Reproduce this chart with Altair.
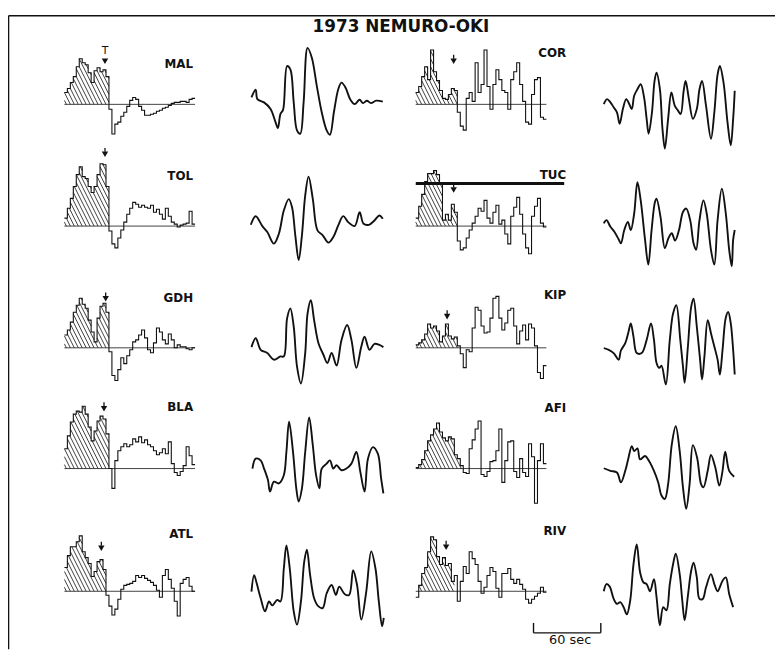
import altair as alt
import numpy as np
import pandas as pd

TITLE = "1973 NEMURO-OKI"
STATIONS = ["MAL", "TOL", "GDH", "BLA", "ATL", "COR", "TUC", "KIP", "AFI", "RIV"]

# source time functions (step amplitudes, one per sample interval)
STF_DT = 3.0
STF_MAL = [12, 16, 22, 28, 38, 46, 42, 40, 32, 22, 34, 37, 33, 35, 28, -5, -30, -20, -18, -12, -8, -2, 4, 7, 5, -2, -6, -11, -11, -10, -9, -7, -6, -4, -3, -1, 1, 2, 2, 3, 3, 2, 5, 6]
STF_TOL = [8, 18, 28, 40, 52, 60, 50, 48, 40, 34, 40, 52, 63, 62, 40, -5, -18, -22, -12, -4, 4, 12, 18, 24, 22, 19, 21, 19, 18, 21, 14, 17, 12, 7, 18, 10, 4, 2, -1, 1, 2, 3, 15, 2]
STF_GDH = [13, 18, 26, 36, 43, 50, 44, 40, 28, 16, 6, 30, 42, 45, 36, -4, -28, -33, -22, -10, -16, -8, -2, 6, 8, 13, 18, 10, -2, -5, 5, 20, 16, 8, 4, 14, 8, 0, 3, 1, 1, -1, -2, 0]
STF_BLA = [20, 33, 47, 55, 58, 57, 63, 55, 42, 28, 38, 48, 53, 50, 35, 0, -20, 8, 18, 22, 25, 22, 24, 30, 27, 32, 26, 29, 24, 22, 18, 14, 16, 20, 15, 27, 5, -4, -7, -3, 3, 22, 13, 4]
STF_ATL = [24, 36, 45, 45, 50, 56, 40, 34, 28, 15, 20, 30, 32, 22, -4, -15, -24, -18, -8, 2, 6, 7, 8, 10, 16, 14, 16, 13, 11, 9, 6, 1, -6, 16, 22, 12, 3, -10, -25, 8, 12, 14, 5, 0]
STF_COR = [12, 18, 28, 38, 25, 55, 33, 24, 14, 6, 5, 10, 16, 14, -8, -22, -26, 6, 12, 3, 42, 12, 20, 55, 18, -5, 20, 35, 25, 14, 12, -5, 25, 33, 42, 20, 3, -18, -20, 10, 25, 27, -13, -15]
STF_TUC = [8, 20, 32, 45, 53, 53, 56, 52, 44, 6, 12, 6, 22, 14, -15, -24, -22, -12, -4, 3, 10, 18, 15, 26, 8, 3, 14, 21, 2, 6, -8, -18, 10, 19, 29, 12, -8, -22, -28, 10, 20, 28, 3, -1]
STF_KIP = [3, 5, 8, 14, 24, 20, 22, 17, 6, 12, 24, 12, 9, 11, 2, -6, -20, -2, -4, 20, 41, 38, 22, 15, 16, 30, 50, 52, 30, 18, 25, 38, 40, 22, 4, 17, 23, 8, 24, 20, 2, -25, -31, -18]
STF_AFI = [1, 4, 9, 18, 28, 34, 40, 46, 37, 31, 28, 32, 30, 14, 10, 3, -4, -5, 20, 29, 40, 48, -6, -8, -3, 7, 8, 18, 40, -14, 8, 27, 28, -3, -9, 10, -4, -8, 25, 12, -35, 8, 25, 5]
STF_RIV = [-6, 6, 18, 24, 40, 55, 52, 35, 27, 34, 26, 28, 10, 16, -10, 10, 25, 18, 40, 33, 27, 10, -2, 4, 16, 24, 20, 3, -6, 18, 18, 23, 12, 8, 12, 7, 2, -8, -12, -8, -5, -2, 4, -1]

HATCH_STEPS = [15, 15, 15, 15, 14, 14, 14, 14, 16, 13]
T_TIME = [41.0, 41.0, 41.7, 40.0, 37.3, 38.3, 38.3, 31.7, None, 30.7]
T_LEVEL = [40, 69, 46, 57, 40, 40, 33, 28, None, 41]
TUC_BAR_LEVEL = 43

# waveforms: times and amplitudes
MAL_T = [1, 5.3, 7, 13.7, 20.3, 25.3, 27.7, 30.3, 33, 37, 40.3, 43.7, 47, 50.3, 53.7, 57.7, 62, 67, 72, 77, 80.3, 84.3, 88.7, 92, 96, 101, 105.3, 110.3, 113.7, 117.7, 121.7, 127, 133.7]
MAL_A = [7, 14.7, 5.3, 2, -4.7, -18, -24, -9.7, -5.3, 38.7, 35.3, 2, -26.3, -29.7, 2, 57, 47, 18.7, -8, -26.3, -30.7, -8, 15.3, 22, 17, 4.7, 0.3, 4.7, 1.3, 3.7, 1.3, 3.7, 2.7]
TOL_T = [0.3, 5.3, 12, 17, 23.7, 28.7, 33.7, 38.7, 42, 45.3, 48.7, 52, 55.3, 58.7, 63, 67.7, 73, 78.7, 83.7, 88.7, 93.7, 98.7, 105.3, 110.3, 114.3, 119.7, 125.3, 130.3, 133.7]
TOL_A = [1.3, 10, 0, -6, -17.7, -7.7, 15.7, 27.3, 19, -9.3, -34.3, -9.3, 30.7, 50, 27.3, -4.3, -9.3, -16.7, -11, 0.7, 10, 4, 0, 14, 2.3, 1.3, 5.7, 10.7, 7.3]
GDH_T = [1, 5.3, 10.3, 17, 23.7, 30.3, 33.7, 37, 40.3, 43.7, 47, 51, 55.3, 57.7, 61, 64.3, 68.7, 73.7, 77.7, 82, 87, 92, 97.7, 102, 107, 112, 115.3, 120.3, 125.3, 130.3, 134.3]
GDH_A = [0.7, 9.7, -2, -5.3, -12, -8.7, -8.7, 29.7, 39.7, 21.3, -18.7, -36, -5.3, 34.7, 48, 28, 4.7, -7, -15.3, -5.3, -18, 8, 23, 8, -20.3, 1.3, 11.3, -2, 4, 3, 0.7]
BLA_T = [2, 5.3, 10.3, 13.7, 17.7, 19.7, 23.7, 28.7, 33.7, 36.3, 39, 43, 46.3, 48.7, 52, 55.3, 59.3, 63, 66.3, 69.7, 72, 77, 80.3, 83.7, 87, 92, 97, 102, 107, 111, 115.3, 118.7, 123.7, 128.7, 132, 134.3]
BLA_A = [0, 10, 8.3, 0, -11.7, -23.3, -13.3, -15, -6.7, 16.7, 47.3, 16.7, -20, -33.3, -20, 16.7, 51.7, 23.3, -6.7, -20, 0, 5, 8.3, 0, 3.3, -1.7, 0, 5, 16.7, -3.3, -23.3, 10, 21.7, 15, -10, -25]
ATL_T = [1, 3.7, 6.3, 10.3, 14.7, 18.7, 22, 27, 30.3, 33.7, 36.3, 39.7, 43.7, 47, 51, 54.3, 57, 60.3, 64.3, 68.7, 73, 77, 82, 86.3, 89.7, 95.3, 99.7, 103.7, 107.7, 112, 117, 122, 126.3, 129.7, 133, 134.7]
ATL_A = [-0.3, 16.3, 8, -7, -20.3, -10.3, -14.3, -8.7, -10.3, 23, 46.3, 23, -20.3, -33.7, -10.3, 29.7, 42, 16.3, -7, -15.3, -17, -2, 6.3, -3.7, 4.7, -3, -3.7, 21.3, 6.3, -28.7, -0.3, 40.3, 23, -10.3, -35.3, -27]
COR_T = [0, 3.3, 6.7, 10, 13.3, 16, 19.3, 22.7, 25.7, 28.3, 30.7, 34, 37.3, 40.7, 43.3, 45.3, 48.7, 51.3, 53.3, 56.7, 59.3, 61.7, 65, 68.3, 71.7, 75, 77.7, 80.7, 82.7, 86, 90, 94, 96.7, 99.3, 103.3, 108.3, 111.7, 115, 117.3, 121, 125, 128.3, 130.7, 132.3]
COR_A = [0.3, 5.3, 2, -3, -8, -19.7, -4.7, 5.3, 0.3, -4.7, 8.7, 15.3, 20.3, 7, -14.7, -29.7, -8, 23.7, 32, 15.3, -24.7, -44.7, -14.7, 12, -1.3, -6.3, -9.7, 13.7, 23.7, 5.3, -14.7, -4.7, 15.3, 23.7, -1.3, -34.7, -8, 30.3, 38.7, 22, -18, -41.3, -14.7, 13.7]
TUC_T = [0, 2.7, 6.7, 10.7, 15, 17.3, 20.7, 24.3, 27.3, 30.7, 34, 37.3, 41.7, 45, 48.3, 51.7, 53.3, 57.3, 61.7, 65.3, 68.7, 72, 76, 80, 83.3, 87.3, 90.7, 93.3, 96.7, 100.7, 104, 108.3, 111.7, 115, 119.3, 123.3, 126.7, 129.3, 130.7, 132.3]
TUC_A = [2.7, 6, -0.7, -5.7, -13.3, -17.3, -4, 4.3, -4, 12.7, 44.3, 26, -14, -39, -4, 24.3, 27.7, 9.3, -22.3, -12.3, -7.3, -14.7, -4, 14.3, 17.7, 6, -17.3, -24, 6, 26, 12.7, -24, -39, 6, 37.7, 12.7, -24, -40.7, -14, -4]
KIP_T = [0, 5, 10, 15, 17.3, 21.7, 25, 27.3, 30, 33.3, 38.3, 43.3, 47.7, 50.7, 53.3, 56, 58.3, 62.7, 66.7, 70, 73.3, 77.3, 80, 81.7, 85, 88.3, 90.7, 94, 97.3, 99.3, 101.7, 105, 108.3, 111.7, 115, 117.3, 120, 123.3, 125.7, 128.3, 130.7, 132.3]
KIP_A = [-0.3, -2, -5.3, -12, -2.7, 4.7, 16.3, 24.7, 11.3, -5.3, -5.3, 8, 24.7, 8, -15.3, -20.3, -18, -37, 8, 34.7, 43, 8, -18.7, -35.3, 1.3, 41.3, 49.7, 21.3, -12, -32, -8.7, 28, 14.7, 1.3, -12, -27, -2, 30.7, 36.3, 24.7, -2, -27]
AFI_T = [0, 6.7, 13.3, 17.3, 21.7, 25, 28.3, 30.7, 34, 36.7, 41.7, 45.7, 50.7, 55, 58.3, 61.7, 65, 68.7, 72.7, 76.7, 80, 83.3, 86.7, 90, 94.3, 98.3, 100.7, 105, 108.3, 112.7, 116.7, 120, 122.7, 126.7, 131.7]
AFI_A = [0.3, -2.3, -4, -14, -2.3, 11, 22.7, 17.7, 20.3, 9.3, 12.7, 7.7, -2.3, -14, -27.3, -30.7, -15.7, 24.3, 42.7, 17.7, -19, -40.7, -15.7, 23.7, 11, -15.7, -19, -2.3, 13.7, 1, -17.3, -2.3, 17, -2.3, -8.3]
RIV_T = [0, 2.7, 6, 10, 13.3, 16.7, 20, 23.3, 26.7, 30, 33.3, 36.7, 40, 43.3, 46.7, 50.7, 53.3, 56.7, 60, 63.3, 66.7, 70, 72.7, 76.7, 79.3, 81.7, 85, 88.3, 90.7, 94, 96.7, 100, 103.3, 108.3, 111.7, 115, 120, 123.3, 126.7, 130.7]
RIV_A = [0, 7.3, 4.7, -7.7, -12.7, -11, -16, -23.3, -9.3, 27.3, 47.3, 19, 9, 7.3, 0, 12.3, -6, -34.3, -16, -19.3, 7.3, 27.3, 38, 17.3, -9.3, -29.3, -4.3, 20.7, 29, 14, -7.7, -7.7, 4, 17.3, 7.3, 0, 10.7, 14, -2.7, -16]

SCALE_BAR_LABEL = "60 sec"
SCALE_BAR_LEN = 68  # 60 s in sample-time units

STF = [STF_MAL, STF_TOL, STF_GDH, STF_BLA, STF_ATL, STF_COR, STF_TUC, STF_KIP, STF_AFI, STF_RIV]
WAVE_T = [MAL_T, TOL_T, GDH_T, BLA_T, ATL_T, COR_T, TUC_T, KIP_T, AFI_T, RIV_T]
WAVE_A = [MAL_A, TOL_A, GDH_A, BLA_A, ATL_A, COR_A, TUC_A, KIP_A, AFI_A, RIV_A]

# ---- layout (plot units = pixels of the canvas) ----
W, H = 775, 640
STF_X0 = [57, 412]
WAVE_X0 = [245, 602]
ROW_BASE = [90, 213, 336, 458, 582]
LABEL_X = [187, 564]
LABEL_RISE = [41, 51, 50, 62, 58, 52, 52, 53, 61, 61]
INK = "#111111"


def hatch_segments(vals, n, dt, slope=2.0, gap=4.0):
    f_steps = np.clip(np.array(vals[:n], dtype=float), 0, None)
    xs = np.arange(0, n * dt, 0.05)
    idx = np.minimum((xs // dt).astype(int), n - 1)
    f = f_steps[idx]
    segs = []
    c = gap / 2
    xmax = n * dt + f_steps.max() / slope
    while c < xmax:
        a = slope * (c - xs)
        ok = (a >= 0) & (a <= f)
        if ok.any():
            d = np.diff(np.concatenate([[0], ok.astype(int), [0]]))
            starts = np.where(d == 1)[0]
            ends = np.where(d == -1)[0] - 1
            for s, e in zip(starts, ends):
                if e > s:
                    segs.append((xs[s], a[s], xs[e], a[e]))
        c += gap
    return segs


stf_rows, base_rows, hatch_rows, wave_rows = [], [], [], []
mark_rows, stem_rows, label_rows, tlet_rows = [], [], [], []
for k, st in enumerate(STATIONS):
    col, row = divmod(k, 5)
    x0, base = STF_X0[col], ROW_BASE[row]
    vals = STF[k]
    n = len(vals)
    for i, v in enumerate(vals):
        stf_rows.append({"st": st, "x": x0 + i * STF_DT, "y": base - v})
    stf_rows.append({"st": st, "x": x0 + n * STF_DT, "y": base - vals[-1]})
    base_rows.append({"x": x0, "x2": x0 + n * STF_DT, "y": base})
    for (xa, aa, xb, ab) in hatch_segments(vals, HATCH_STEPS[k], STF_DT):
        hatch_rows.append({"x": x0 + xa, "y": base - aa, "x2": x0 + xb, "y2": base - ab})
    wx0 = WAVE_X0[col]
    for t, a in zip(WAVE_T[k], WAVE_A[k]):
        wave_rows.append({"st": st, "x": wx0 + t, "y": base - a})
    if T_TIME[k] is not None:
        tx = x0 + T_TIME[k]
        lv = T_LEVEL[k]
        mark_rows.append({"x": tx, "y": base - lv - 3.5})
        if st == "MAL":
            tlet_rows.append({"x": tx, "y": base - lv - 14, "t": "T"})
        else:
            stem_rows.append({"x": tx, "y": base - lv - 6, "y2": base - lv - 10})
    label_rows.append({"x": LABEL_X[col], "y": base - LABEL_RISE[k], "t": st})

stf_df = pd.DataFrame(stf_rows)
base_df = pd.DataFrame(base_rows)
hatch_df = pd.DataFrame(hatch_rows)
wave_df = pd.DataFrame(wave_rows)
mark_df = pd.DataFrame(mark_rows)
stem_df = pd.DataFrame(stem_rows)
label_df = pd.DataFrame(label_rows)
tlet_df = pd.DataFrame(tlet_rows)

tuc_k = STATIONS.index("TUC")
tuc_base = ROW_BASE[tuc_k % 5]
tuc_x0 = STF_X0[tuc_k // 5]
bar_df = pd.DataFrame([{"x": tuc_x0, "x2": tuc_x0 + 150, "y": tuc_base - TUC_BAR_LEVEL}])

sb_x, sb_y = 531, 624
scale_h = pd.DataFrame([{"x": sb_x, "x2": sb_x + SCALE_BAR_LEN, "y": sb_y}])
scale_v = pd.DataFrame([{"x": sb_x, "y": sb_y - 10, "y2": sb_y},
                        {"x": sb_x + SCALE_BAR_LEN, "y": sb_y - 10, "y2": sb_y}])
scale_t = pd.DataFrame([{"x": sb_x + SCALE_BAR_LEN / 2 + 3, "y": sb_y + 7, "t": SCALE_BAR_LABEL}])
title_df = pd.DataFrame([{"x": 397, "y": 11.5, "t": TITLE}])

XS = alt.Scale(domain=[0, W], nice=False, zero=False)
YS = alt.Scale(domain=[0, H], nice=False, zero=False, reverse=True)
XAX = alt.Axis(orient="top", labels=False, ticks=False, grid=False, title="",
               domainColor=INK, domainWidth=1.6)
YAX = alt.Axis(orient="left", labels=False, ticks=False, grid=False, title="",
               domainColor=INK, domainWidth=1.6)


def X(f="x"):
    return alt.X(f + ":Q", scale=XS, axis=XAX)


def Y(f="y"):
    return alt.Y(f + ":Q", scale=YS, axis=YAX)


layers = []
layers.append(alt.Chart(base_df).mark_rule(color=INK, strokeWidth=0.8).encode(
    x=X(), x2="x2:Q", y=Y()))
layers.append(alt.Chart(hatch_df).mark_rule(color=INK, strokeWidth=0.8).encode(
    x=X(), y=Y(), x2="x2:Q", y2="y2:Q"))
layers.append(alt.Chart(stf_df).mark_line(color=INK, strokeWidth=1.1, interpolate="step-after").encode(
    x=X(), y=Y(), detail="st:N"))
layers.append(alt.Chart(wave_df).mark_line(color=INK, strokeWidth=1.9, interpolate="catmull-rom").encode(
    x=X(), y=Y(), detail="st:N"))
layers.append(alt.Chart(mark_df).mark_point(shape="triangle-down", filled=True, size=42,
                                            color=INK, opacity=1).encode(x=X(), y=Y()))
layers.append(alt.Chart(stem_df).mark_rule(color=INK, strokeWidth=1.3).encode(
    x=X(), y=Y(), y2="y2:Q"))
layers.append(alt.Chart(tlet_df).mark_text(font="DejaVu Sans", fontSize=11, color=INK,
                                           baseline="middle", align="center").encode(
    x=X(), y=Y(), text="t:N"))
layers.append(alt.Chart(label_df).mark_text(font="DejaVu Sans", fontSize=12, fontWeight="bold",
                                            color=INK, baseline="middle", align="right").encode(
    x=X(), y=Y(), text="t:N"))
layers.append(alt.Chart(bar_df).mark_rule(color=INK, strokeWidth=3).encode(
    x=X(), x2="x2:Q", y=Y()))
layers.append(alt.Chart(scale_h).mark_rule(color=INK, strokeWidth=1.4).encode(
    x=X(), x2="x2:Q", y=Y()))
layers.append(alt.Chart(scale_v).mark_rule(color=INK, strokeWidth=1.4).encode(
    x=X(), y=Y(), y2="y2:Q"))
layers.append(alt.Chart(scale_t).mark_text(font="DejaVu Sans", fontSize=13, color=INK,
                                           baseline="middle", align="center").encode(
    x=X(), y=Y(), text="t:N"))
layers.append(alt.Chart(title_df).mark_text(font="DejaVu Sans", fontSize=17, fontWeight=600,
                                            color=INK, baseline="middle", align="center").encode(
    x=X(), y=Y(), text="t:N"))

chart = alt.layer(*layers).properties(
    width=W, height=H, autosize="none",
    padding={"left": 0, "top": 4, "right": 0, "bottom": 0},
    background="white",
).configure_view(stroke="transparent")

chart.save("out.html", embed_options={"renderer": "svg", "actions": False})
